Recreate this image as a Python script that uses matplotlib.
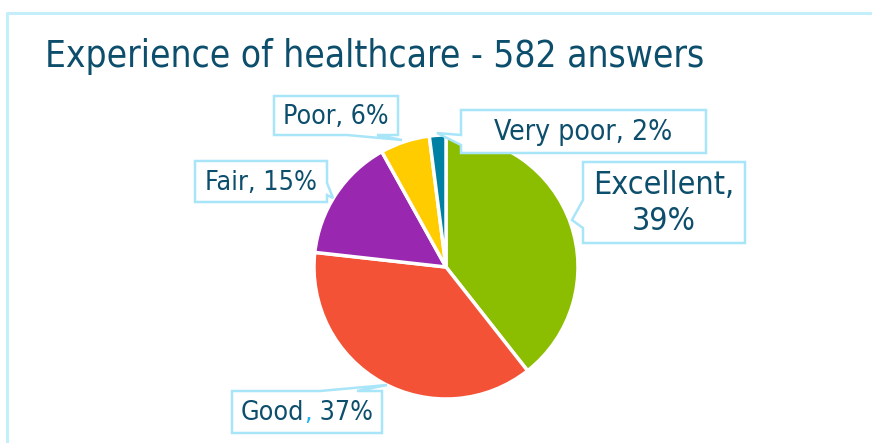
import matplotlib
matplotlib.use('Agg')
import matplotlib.pyplot as plt
from matplotlib.patches import Polygon
from matplotlib.lines import Line2D
from matplotlib import font_manager

# ---------------- data ----------------
categories = ['Excellent', 'Good', 'Fair', 'Poor', 'Very poor']
percentages = [39, 37, 15, 6, 2]
colors = ['#8BBD00', '#F35237', '#9A27B0', '#FFCC00', '#0080A3']
title_text = 'Experience of healthcare - 582 answers'

# ---------------- layout ----------------
W, H = 872, 443
TEXT_C = '#0C4E6C'
BOX_C = '#A9E5F8'
FRAME_C = '#C4EEFA'

has_cond = any(f.name == 'DejaVu Sans' and 'condensed' in str(f.stretch) for f in font_manager.fontManager.ttflist)
FONT = dict(family='DejaVu Sans', stretch='condensed' if has_cond else 'normal')

fig = plt.figure(figsize=(W / 100, H / 100), dpi=100)
fig.patch.set_facecolor('white')

# pie
cx, cy, r = 446, 267, 132
pax = fig.add_axes([(cx - r) / W, (H - cy - r) / H, 2 * r / W, 2 * r / H])
pax.pie(percentages, colors=colors, startangle=90, counterclock=False,
        wedgeprops=dict(edgecolor='white', linewidth=2.5))
pax.set_xlim(-1, 1)
pax.set_ylim(-1, 1)
pax.set_axis_off()

# overlay in pixel coordinates (y down)
oax = fig.add_axes([0, 0, 1, 1], zorder=5)
oax.set_xlim(0, W)
oax.set_ylim(H, 0)
oax.set_axis_off()
oax.patch.set_alpha(0)

# frame
oax.add_line(Line2D([7, 7, W], [H, 13, 13], color=FRAME_C, lw=2.2, solid_capstyle='butt'))

renderer = fig.canvas.get_renderer()


def fit_text(x, y, s, target_w, **kw):
    t = oax.text(x, y, s, color=TEXT_C, **FONT, **kw)
    t.set_fontsize(20)
    w = t.get_window_extent(renderer).width
    t.set_fontsize(20 * target_w / w)
    return t


# title
fit_text(45, 67, title_text, 658, ha='left', va='baseline')

# callouts: (label, box, tail polygon points inserted)
def callout(pts):
    oax.add_patch(Polygon(pts, closed=True, facecolor='white', edgecolor=BOX_C, lw=1.8, zorder=2))

# Poor
callout([(274, 96), (398, 96), (398, 135), (377, 135), (402, 140), (347, 135), (274, 135)])
fit_text(336, 117, f'{categories[3]}, {percentages[3]}%', 105, ha='center', va='center', zorder=3)

# Fair
callout([(195, 161), (327, 161), (327, 183), (333, 198), (327, 195), (327, 202), (195, 202)])
fit_text(261, 183, f'{categories[2]}, {percentages[2]}%', 112, ha='center', va='center', zorder=3)

# Very poor
callout([(461, 110), (706, 110), (706, 153), (461, 153), (461, 145), (437, 133), (461, 135)])
fit_text(583, 132, f'{categories[4]}, {percentages[4]}%', 178, ha='center', va='center', zorder=3)

# Excellent
callout([(583, 162), (745, 162), (745, 243), (583, 243), (583, 228), (572, 220), (583, 200)])
t = fit_text(664, 186, f'{categories[0]},', 141, ha='center', va='center', zorder=3)
oax.text(664, 221, f'{percentages[0]}%', color=TEXT_C, fontsize=t.get_fontsize(), ha='center', va='center', zorder=3, **FONT)

# Good (comma drawn in light blue)
callout([(232, 391), (320, 391), (387, 385), (357, 391), (382, 391), (382, 433), (232, 433)])
full = f'{categories[1]}, {percentages[1]}%'
tf = fit_text(307, 413, full, 131, ha='center', va='center', zorder=3)
fs = tf.get_fontsize()
bb = tf.get_window_extent(renderer)
tf.remove()
inv = oax.transData.inverted()
x0 = inv.transform((bb.x0, 0))[0]
pieces = [(categories[1], TEXT_C), (',', '#1EB4F0'), (f' {percentages[1]}%', TEXT_C)]
x = x0
for s, c in pieces:
    tp = oax.text(x, 413, s, color=c, fontsize=fs, ha='left', va='center', zorder=3, **FONT)
    e = tp.get_window_extent(renderer)
    x = inv.transform((e.x1, 0))[0]
    if s == ',':
        pass

fig.savefig('out.png', dpi=100, facecolor='white')
